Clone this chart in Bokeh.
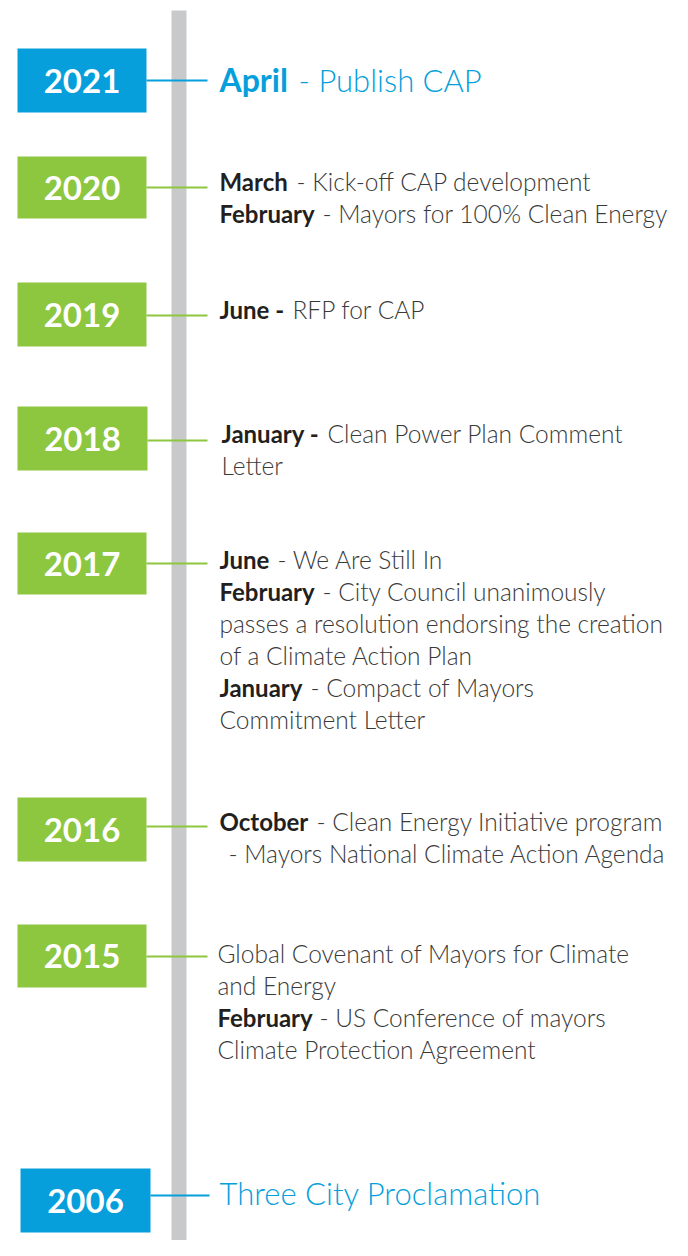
from bokeh.plotting import figure
from bokeh.models import ColumnDataSource, Range1d
from bokeh.core.properties import value
from bokeh.embed import file_html
from bokeh.resources import INLINE

# ---------------- data ----------------
years = ["2021", "2020", "2019", "2018", "2017", "2016", "2015", "2006"]
highlight = [True, False, False, False, False, False, False, True]

events_2021 = [("April", "- Publish CAP")]
events_2020 = [("March", "- Kick-off CAP development"),
               ("February", "- Mayors for 100% Clean Energy")]
events_2019 = [("June -", "RFP for CAP")]
events_2018 = [("January -", "Clean Power Plan Comment"),
               ("", "Letter")]
events_2017 = [("June", "- We Are Still In"),
               ("February", "- City Council unanimously"),
               ("", "passes a resolution endorsing the creation"),
               ("", "of a Climate Action Plan"),
               ("January", "- Compact of Mayors"),
               ("", "Commitment Letter")]
events_2016 = [("October", "- Clean Energy Initiative program"),
               ("", "- Mayors National Climate Action Agenda")]
events_2015 = [("", "Global Covenant of Mayors for Climate"),
               ("", "and Energy"),
               ("February", "- US Conference of mayors"),
               ("", "Climate Protection Agreement")]
events_2006 = [("", "Three City Proclamation")]
events = [events_2021, events_2020, events_2019, events_2018,
          events_2017, events_2016, events_2015, events_2006]

# ---------------- layout (pixels) ----------------
box_left = [17, 17, 17, 17, 17, 17, 17, 20]
box_right = [146, 146, 146, 147, 146, 146, 146, 150]
box_top = [48, 156, 282, 406, 532, 797, 924, 1168]
box_bottom = [112, 218, 346, 470, 594, 861, 987, 1232]
conn_y = [80, 187, 315, 440, 563, 826, 956, 1195]
conn_end = [207, 207, 207, 207, 207, 207, 207, 209]
text_x = [219, 219, 219, 221, 219, 219, 217, 219]
first_mid = [79, 181, 309, 433, 559, 821, 953, 1192]
line_gap = 32
rest_x = [[298], [296, 322], [292], [327, 221], [277, 322, 219, 219, 310, 219],
          [316, 228], [217, 217, 319, 217], [219]]
bold_px = [32, 24, 24, 24, 24, 24, 24, 31]
font_px = [31, 24.5, 24.5, 24.5, 24.5, 24.5, 24.5, 31]

BLUE = "#069fdb"
GREEN = "#8dc63f"
GRAY = "#c8c9cb"
DARK = "#231f20"
BODY = "#3a3a3a"
LIGHT_FONT = "'Lato Light', Lato, sans-serif"
BOLD_FONT = "Lato, sans-serif"

p = figure(width=672, height=1240, output_backend="svg", toolbar_location=None,
           x_range=Range1d(0, 672), y_range=Range1d(1240, 0),
           x_axis_location=None, y_axis_location=None, min_border=0)
p.grid.visible = False
p.outline_line_color = None
p.background_fill_color = "white"
p.border_fill_color = "white"

# vertical grey timeline bar
p.quad(left=[171], right=[186], top=[10], bottom=[1240], fill_color=GRAY, line_color=None)

colors = [BLUE if h else GREEN for h in highlight]

# connectors
p.segment(x0=box_right, x1=conn_end, y0=conn_y, y1=conn_y, line_color=colors, line_width=2)

# year boxes
p.quad(left=box_left, right=box_right, top=box_top, bottom=box_bottom,
       fill_color=colors, line_color=None)
p.text(x=[(a + b) / 2 for a, b in zip(box_left, box_right)],
       y=[(t + b) / 2 for t, b in zip(box_top, box_bottom)],
       text=years, text_color="white", text_align="center", text_baseline="middle",
       text_font=value(BOLD_FONT), text_font_style="bold", text_font_size="33px")

# event texts
bx, by, bt, bc, bs = [], [], [], [], []
rx, ry, rt, rc, rs = [], [], [], [], []
for i, evs in enumerate(events):
    for j, (bold, rest) in enumerate(evs):
        y = first_mid[i] + j * line_gap
        col_b = BLUE if highlight[i] else DARK
        col_r = BLUE if highlight[i] else BODY
        if bold:
            bx.append(text_x[i]); by.append(y); bt.append(bold); bc.append(col_b)
            bs.append(f"{bold_px[i]}px")
        rx.append(rest_x[i][j]); ry.append(y); rt.append(rest); rc.append(col_r)
        rs.append(f"{font_px[i]}px")

src_b = ColumnDataSource(dict(x=bx, y=by, text=bt, color=bc, size=bs))
src_r = ColumnDataSource(dict(x=rx, y=ry, text=rt, color=rc, size=rs))
p.text(x="x", y="y", text="text", source=src_b, text_color="color",
       text_font_size="size", text_font=value(BOLD_FONT), text_font_style="bold",
       text_baseline="middle", text_align="left")
p.text(x="x", y="y", text="text", source=src_r, text_color="color",
       text_font_size="size", text_font=value(LIGHT_FONT), text_font_style="normal",
       text_baseline="middle", text_align="left")

open("out.html", "w").write(file_html(p, INLINE))
